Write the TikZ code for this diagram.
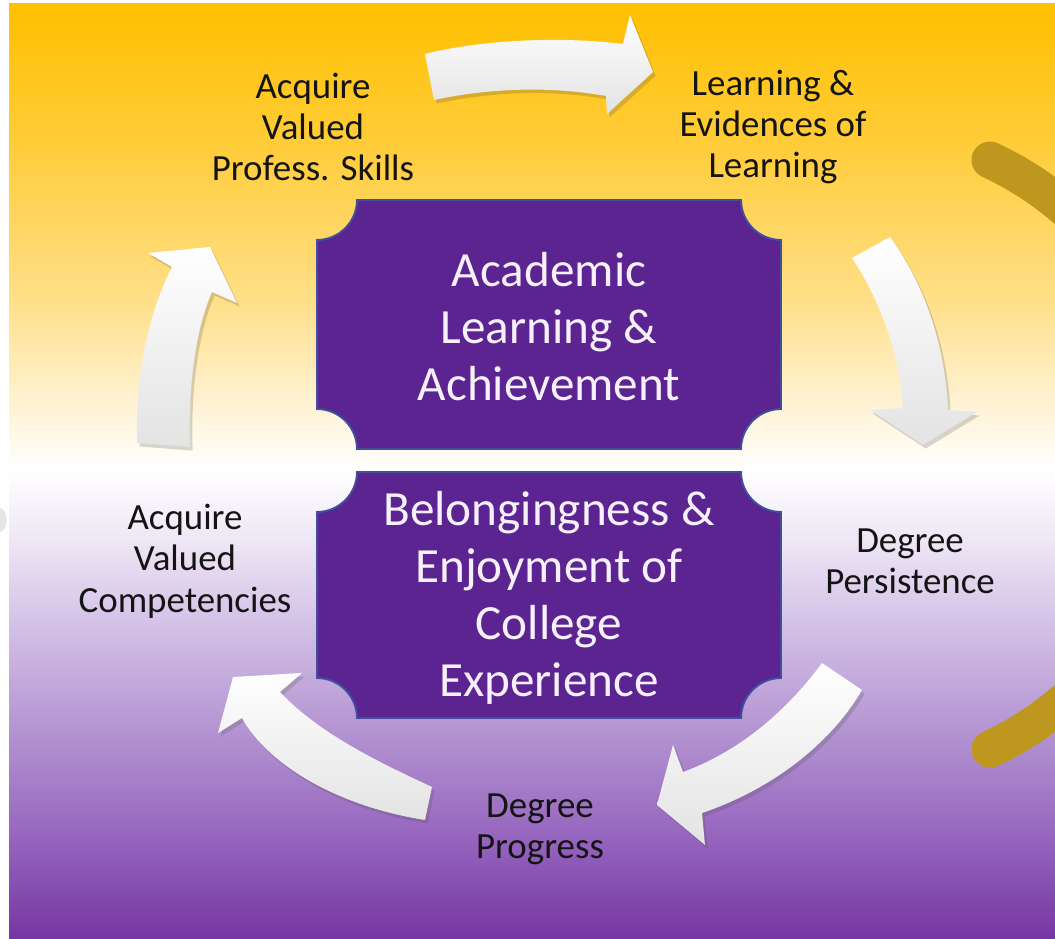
\documentclass[tikz,border=0pt]{standalone}
\usepackage{fontspec}
\setmainfont{Carlito}
\usetikzlibrary{shadows}
\definecolor{cgold}{HTML}{FFC000}
\definecolor{cy1}{HTML}{FFCD3C}
\definecolor{cy2}{HTML}{FFDF88}
\definecolor{cy3}{HTML}{FFF2D2}
\definecolor{cp1}{HTML}{EEE6F5}
\definecolor{cp2}{HTML}{D5C3E8}
\definecolor{cp3}{HTML}{B698D3}
\definecolor{cp4}{HTML}{9868C0}
\definecolor{cp5}{HTML}{7636A2}
\definecolor{cpurple}{HTML}{5B2490}
\definecolor{cedge}{HTML}{3F4F9C}
\definecolor{cband}{HTML}{BE971F}
\definecolor{cink}{HTML}{141414}
\definecolor{ctext}{HTML}{F6F0FB}
\pgfdeclareverticalshading{bgfade}{100bp}{color(0bp)=(cp5); color(25bp)=(cp5); color(30.8bp)=(cp4); color(36.7bp)=(cp3); color(42.1bp)=(cp2); color(46.3bp)=(cp1); color(50.1bp)=(white); color(53.8bp)=(cy3); color(59.2bp)=(cy2); color(67.2bp)=(cy1); color(75bp)=(cgold); color(100bp)=(cgold)}
\tikzset{
  blockarrow/.style={top color=white, bottom color=black!11, draw=none,
    drop shadow={shadow xshift=1.5pt, shadow yshift=-2pt, opacity=0.22, fill=black!70}},
  plaque/.style={fill=cpurple, draw=cedge, line width=1.1pt},
  boxtext/.style={text=ctext, align=center, font=\fontsize{28}{32.4}\selectfont},
  steptext/.style={text=cink, align=center, font=\fontsize{21}{23.5}\selectfont},
}
% plaque with concave corners: x0, y0, x1, y1 (pixel grid, y down)
\newcommand{\plaque}[4]{%
  \path[plaque] ({#1+40},#2) -- ({#3-40},#2)
    .. controls ({#3-40},{#2+22}) and ({#3-22},{#2+40}) .. (#3,{#2+40}) -- (#3,{#4-40})
    .. controls ({#3-22},{#4-40}) and ({#3-40},{#4-22}) .. ({#3-40},#4) -- ({#1+40},#4)
    .. controls ({#1+40},{#4-22}) and ({#1+22},{#4-40}) .. (#1,{#4-40}) -- (#1,{#2+40})
    .. controls ({#1+22},{#2+40}) and ({#1+40},{#2+22}) .. ({#1+40},#2) -- cycle;}

\begin{document}
\begin{tikzpicture}[x=0.02cm, y=-0.02cm]
  \useasboundingbox (0,0) rectangle (1055,939);
  \fill[white] (0,0) rectangle (1055,939);
  \shade[shading=bgfade] (9,4) rectangle (1055,939);
  \fill[black!10] (0,508) .. controls (9,510) and (9,530) .. (0,532) -- cycle;
  % gold band at the right edge
  \begin{scope}
    \clip (9,4) rectangle (1055,939);
    \draw[cband, line width=0.74cm, line cap=round] (990,160) arc[start angle=-65, end angle=65, radius=325];
  \end{scope}
  % cycle arrows
  \path[blockarrow] (425,54) .. controls (480,40) and (560,36) .. (623,44) -- (630,15) -- (653,72)
    -- (607,114) -- (606,96) .. controls (550,86) and (490,88) .. (434,100) -- cycle;
  \path[blockarrow] (890,237) .. controls (925,285) and (945,345) .. (948,410) -- (977,412) -- (923,445)
    -- (870,410) -- (903,408) .. controls (900,355) and (880,300) .. (852,258) -- cycle;
  \path[blockarrow] (862,690) .. controls (830,745) and (770,790) .. (702,813) -- (705,845) -- (657,805)
    -- (673,745) -- (683,772) .. controls (730,755) and (780,720) .. (822,663) -- cycle;
  \path[blockarrow] (432,787) .. controls (385,765) and (320,735) .. (280,692) -- (302,673) -- (233,677)
    -- (218,733) -- (242,718) .. controls (265,760) and (330,805) .. (425,820) -- cycle;
  \path[blockarrow] (190,447) .. controls (188,390) and (195,330) .. (212,292) -- (237,303) -- (210,247)
    -- (148,253) -- (172,267) .. controls (150,310) and (135,370) .. (137,443) -- cycle;
  % centre plaques
  \plaque{317}{200}{781}{449}
  \plaque{317}{472}{781}{718}
  \node[boxtext] (academic) at (549,327) {Academic\\Learning \&\\Achievement};
  \node[boxtext] (belong) at (549,598) {Belongingness \&\\Enjoyment of\\College\\Experience};
  % outer labels
  \node[steptext] (skills) at (313,127) {Acquire\\Valued\\Profess. Skills};
  \node[steptext] (evidence) at (773,127) {Learning \&\\Evidences of\\Learning};
  \node[steptext] (persist) at (910,561) {Degree\\Persistence};
  \node[steptext] (progress) at (540,829) {Degree\\Progress};
  \node[steptext] (compet) at (185,561) {Acquire\\Valued\\Competencies};
\end{tikzpicture}
\end{document}
